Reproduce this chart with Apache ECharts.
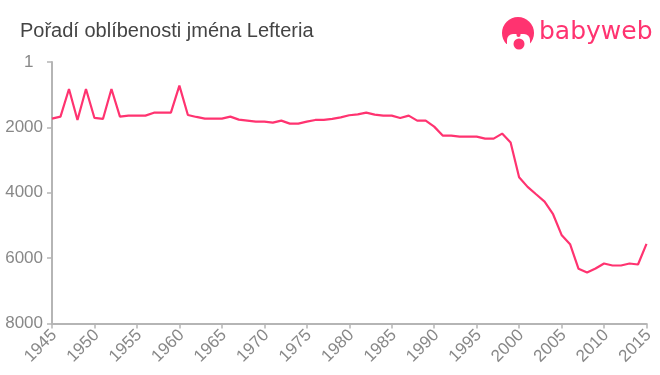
<!DOCTYPE html>
<html><head><meta charset="utf-8">
<style>html,body{margin:0;padding:0;background:#fff}#c{width:660px;height:375px}</style>
<script src="https://cdn.jsdelivr.net/npm/echarts@6/dist/echarts.min.js"></script>
</head><body><div id="c"></div>
<script>
const titleText = "Pořadí oblíbenosti jména Lefteria";
const logoText = "babyweb";
const years = [];
for (let y = 1945; y <= 2015; y++) years.push(String(y));
const ranks = [1733,1671,825,1773,825,1712,1742,825,1671,1640,1640,1640,1550,1550,1550,724,1620,1681,1733,1733,1733,1671,1763,1793,1824,1824,1855,1793,1886,1886,1824,1773,1773,1742,1692,1630,1600,1549,1610,1640,1640,1712,1640,1794,1794,1977,2252,2252,2283,2283,2283,2344,2344,2191,2466,3525,3821,4046,4270,4657,5289,5574,6328,6440,6318,6165,6226,6226,6165,6196,5564];
const firstTickLabel = "1  ";
const pink = "#ff3370";
const chart = echarts.init(document.getElementById('c'), null, {renderer:'canvas'});
chart.setOption({
  animation:false,
  backgroundColor:'#fff',
  textStyle:{fontFamily:'"Liberation Sans",Arial,sans-serif'},
  title:{text:titleText,left:20,top:21,padding:0,textStyle:{fontSize:20,fontWeight:'normal',color:'#444',fontFamily:'"Liberation Sans",Arial,sans-serif'}},
  grid:{left:52,right:13.5,top:62,bottom:51.5,containLabel:false},
  xAxis:{type:'category',data:years,boundaryGap:false,position:'bottom',
    axisLine:{onZero:false,lineStyle:{color:'#b5b5b5',width:2}},
    axisTick:{length:5,interval:(i)=>i%5===0,lineStyle:{color:'#b5b5b5',width:1.5}},
    axisLabel:{interval:(i)=>i%5===0,rotate:45,fontSize:17,color:'#888',margin:7,verticalAlign:'top',lineHeight:6,showMinLabel:true,showMaxLabel:true},
    splitLine:{show:false}},
  yAxis:{type:'value',inverse:true,min:0,max:8000,interval:2000,
    axisLine:{show:true,lineStyle:{color:'#b5b5b5',width:2}},
    axisTick:{show:true,length:5,lineStyle:{color:'#b5b5b5',width:1.5}},
    axisLabel:{fontSize:17,color:'#888',margin:9,formatter:(v)=>v===0?firstTickLabel:String(v)},
    splitLine:{show:false}},
  series:[{type:'line',data:ranks,symbol:'none',smooth:false,lineStyle:{color:pink,width:2.2}}],
  graphic:[
    {type:'circle',shape:{cx:518,cy:33,r:16},style:{fill:pink}},
    {type:'rect',shape:{x:507,y:34,width:23,height:16,r:6},style:{fill:'#fff'}},
    {type:'rect',shape:{x:500,y:44,width:36,height:7},style:{fill:'#fff'}},
    {type:'rect',shape:{x:516.5,y:32,width:4,height:5,r:2},style:{fill:pink}},
    {type:'circle',shape:{cx:519,cy:44,r:5.5},style:{fill:pink}},
    {type:'text',style:{text:logoText,x:539,y:20,fontSize:25,fontFamily:'"DejaVu Sans",sans-serif',fill:pink}}
  ]
});
</script></body></html>
